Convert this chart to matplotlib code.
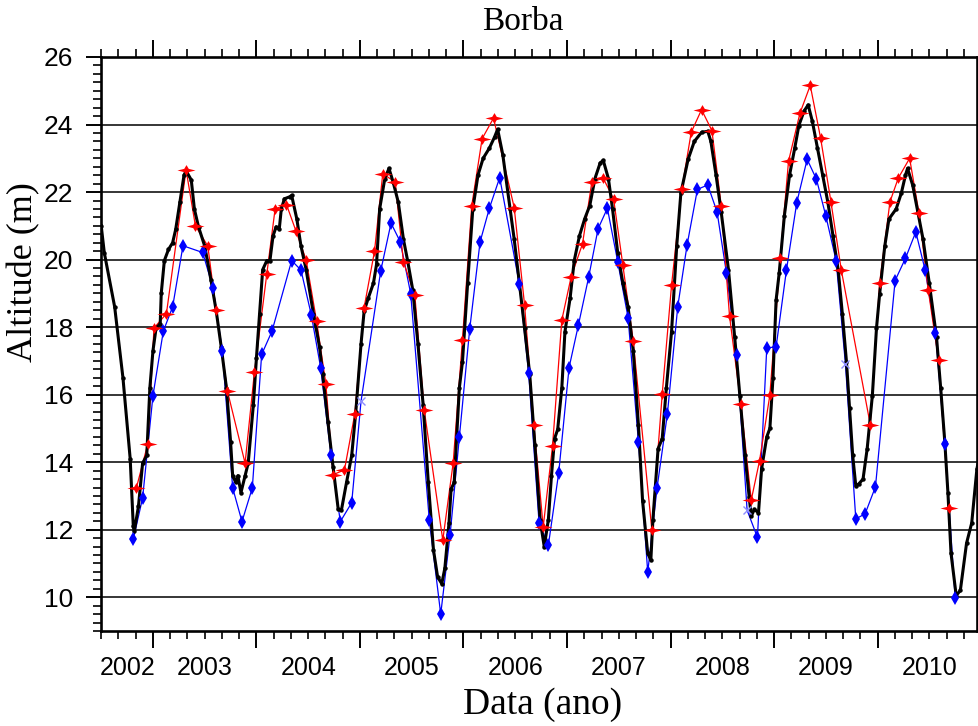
import matplotlib
matplotlib.use("Agg")
import matplotlib.pyplot as plt
from matplotlib.path import Path
from matplotlib.ticker import MultipleLocator

# in situ gauge (black)
black_t = [2002.50, 2002.53, 2002.63, 2002.71, 2002.78, 2002.81, 2002.82, 2002.86, 2002.90, 2002.94,
           2002.97, 2003.00, 2003.03, 2003.07, 2003.08, 2003.11, 2003.15, 2003.19, 2003.22, 2003.26,
           2003.30, 2003.32, 2003.37, 2003.40, 2003.44, 2003.50, 2003.56, 2003.61, 2003.66, 2003.71,
           2003.75, 2003.77, 2003.80, 2003.82, 2003.85, 2003.89, 2003.92, 2003.97, 2004.00, 2004.03,
           2004.06, 2004.10, 2004.13, 2004.16, 2004.19, 2004.22, 2004.24, 2004.27, 2004.32, 2004.34,
           2004.39, 2004.43, 2004.48, 2004.55, 2004.61, 2004.64, 2004.69, 2004.74, 2004.79, 2004.82,
           2004.87, 2004.92, 2004.96, 2005.01, 2005.04, 2005.08, 2005.13, 2005.16, 2005.19, 2005.24,
           2005.28, 2005.32, 2005.37, 2005.42, 2005.46, 2005.51, 2005.56, 2005.61, 2005.66, 2005.71,
           2005.75, 2005.79, 2005.82, 2005.86, 2005.88, 2005.91, 2005.96, 2005.99, 2006.04, 2006.09,
           2006.14, 2006.19, 2006.25, 2006.30, 2006.33, 2006.38, 2006.45, 2006.49, 2006.54, 2006.59,
           2006.64, 2006.69, 2006.74, 2006.78, 2006.82, 2006.85, 2006.88, 2006.91, 2006.95, 2006.98,
           2007.03, 2007.07, 2007.12, 2007.17, 2007.22, 2007.27, 2007.32, 2007.35, 2007.40, 2007.44,
           2007.49, 2007.54, 2007.59, 2007.64, 2007.69, 2007.73, 2007.78, 2007.81, 2007.83, 2007.88,
           2007.92, 2007.96, 2008.01, 2008.06, 2008.10, 2008.17, 2008.23, 2008.30, 2008.36, 2008.39,
           2008.44, 2008.49, 2008.56, 2008.62, 2008.67, 2008.72, 2008.76, 2008.78, 2008.81, 2008.85,
           2008.88, 2008.93, 2008.96, 2008.99, 2009.02, 2009.05, 2009.10, 2009.15, 2009.20, 2009.24,
           2009.29, 2009.33, 2009.37, 2009.42, 2009.47, 2009.52, 2009.57, 2009.62, 2009.66, 2009.70,
           2009.73, 2009.76, 2009.79, 2009.82, 2009.86, 2009.90, 2009.95, 2009.99, 2010.02, 2010.07,
           2010.11, 2010.18, 2010.23, 2010.27, 2010.29, 2010.34, 2010.39, 2010.44, 2010.50, 2010.57,
           2010.61, 2010.65, 2010.68, 2010.71, 2010.76, 2010.80, 2010.86, 2010.91, 2010.96, 2010.98]
black_v = [21.0, 20.2, 18.6, 16.5, 14.1, 12.1, 11.95, 12.7, 13.97, 14.2,
           16.2, 17.3, 17.97, 18.1, 19.0, 19.97, 20.3, 20.5, 20.9, 21.7,
           22.5, 22.63, 22.36, 21.5, 20.97, 20.4, 19.4, 18.5, 17.4, 16.2,
           14.6, 13.6, 13.4, 13.6, 13.1, 13.6, 13.97, 15.7, 17.1, 18.4,
           19.7, 19.97, 19.97, 20.7, 20.97, 20.9, 21.5, 21.8, 21.86, 21.9,
           21.2, 20.4, 19.7, 18.4, 17.4, 16.6, 15.2, 13.86, 12.6, 12.57,
           13.4, 14.2, 15.5, 17.5, 18.47, 18.86, 19.3, 19.86, 21.5, 22.4,
           22.7, 22.3, 21.7, 20.6, 19.97, 19.1, 17.5, 15.7, 13.4, 11.4,
           10.6, 10.4, 10.86, 12.2, 13.2, 13.4, 16.2, 16.97, 19.3, 21.5,
           22.5, 23.0, 23.3, 23.63, 23.86, 23.1, 21.5, 20.6, 19.3, 17.97,
           16.6, 14.5, 12.3, 11.5, 12.3, 13.6, 14.7, 14.97, 16.2, 17.86,
           18.86, 19.97, 20.7, 21.2, 21.6, 22.4, 22.86, 22.94, 22.4, 21.5,
           20.2, 19.3, 18.6, 17.3, 15.1, 12.86, 11.3, 11.1, 12.3, 14.4,
           14.7, 16.2, 17.86, 20.4, 21.97, 22.97, 23.5, 23.77, 23.8, 23.5,
           22.5, 21.4, 19.7, 17.7, 15.97, 14.2, 12.97, 12.4, 12.6, 12.5,
           13.8, 14.75, 15.0, 16.5, 18.8, 19.6, 21.3, 22.5, 23.3, 23.97,
           24.4, 24.58, 24.1, 23.3, 22.5, 21.7, 20.7, 19.7, 18.4, 16.97,
           15.6, 14.2, 13.3, 13.36, 13.5, 14.4, 15.97, 17.97, 18.97, 20.4,
           21.2, 21.5, 21.97, 22.5, 22.7, 22.2, 21.4, 20.6, 19.3, 17.7,
           16.2, 14.6, 13.1, 11.3, 10.05, 10.2, 11.6, 12.2, 13.8, 14.1]

# altimetry series (red)
red_t = [2002.84, 2002.95, 2003.01, 2003.13, 2003.32, 2003.41, 2003.53, 2003.61, 2003.72, 2003.89,
         2003.98, 2004.10, 2004.18, 2004.29, 2004.38, 2004.48, 2004.58, 2004.67, 2004.74, 2004.85,
         2004.95, 2005.04, 2005.14, 2005.22, 2005.34, 2005.42, 2005.53, 2005.62, 2005.80, 2005.90,
         2005.99, 2006.08, 2006.18, 2006.29, 2006.49, 2006.59, 2006.68, 2006.77, 2006.86, 2006.95,
         2007.04, 2007.15, 2007.24, 2007.35, 2007.45, 2007.54, 2007.64, 2007.82, 2007.92, 2008.01,
         2008.11, 2008.20, 2008.30, 2008.40, 2008.49, 2008.57, 2008.68, 2008.78, 2008.86, 2008.96,
         2009.06, 2009.14, 2009.25, 2009.35, 2009.45, 2009.55, 2009.65, 2009.93, 2010.02, 2010.12,
         2010.20, 2010.31, 2010.40, 2010.49, 2010.59, 2010.69]
red_v = [13.24, 14.54, 17.97, 18.4, 22.66, 21.0, 20.4, 18.5, 16.1, 13.97,
         16.66, 19.58, 21.5, 21.63, 20.86, 19.99, 18.19, 16.33, 13.63, 13.77,
         15.43, 18.58, 20.24, 22.54, 22.3, 19.93, 18.94, 15.56, 11.69, 13.97,
         17.63, 21.6, 23.58, 24.19, 21.54, 18.66, 15.11, 12.08, 14.47, 18.21,
         19.49, 20.47, 22.3, 22.41, 21.8, 19.83, 17.58, 11.99, 16.02, 19.24,
         22.1, 23.77, 24.44, 23.82, 21.6, 18.33, 15.72, 12.88, 14.04, 15.99,
         20.04, 22.91, 24.33, 25.16, 23.6, 21.71, 19.69, 15.11, 19.3, 21.71,
         22.41, 23.0, 21.39, 19.1, 17.02, 12.63]

# altimetry series (blue); flag 0 = faint point drawn as x
blue_t = [2002.81, 2002.90, 2003.00, 2003.10, 2003.19, 2003.29, 2003.48, 2003.58, 2003.67, 2003.77,
          2003.86, 2003.96, 2004.05, 2004.15, 2004.34, 2004.43, 2004.53, 2004.62, 2004.72, 2004.81,
          2004.92, 2005.01, 2005.20, 2005.30, 2005.39, 2005.49, 2005.67, 2005.78, 2005.87, 2005.96,
          2006.06, 2006.16, 2006.25, 2006.35, 2006.54, 2006.63, 2006.73, 2006.82, 2006.92, 2007.02,
          2007.11, 2007.21, 2007.30, 2007.39, 2007.49, 2007.59, 2007.69, 2007.78, 2007.87, 2007.97,
          2008.07, 2008.16, 2008.26, 2008.36, 2008.45, 2008.54, 2008.64, 2008.74, 2008.84, 2008.93,
          2009.02, 2009.12, 2009.22, 2009.32, 2009.41, 2009.50, 2009.60, 2009.69, 2009.79, 2009.88,
          2009.98, 2010.17, 2010.27, 2010.37, 2010.46, 2010.56, 2010.65, 2010.75]
blue_v = [11.72, 12.94, 15.97, 17.88, 18.6, 20.41, 20.21, 19.17, 17.3, 13.24,
          12.24, 13.24, 17.19, 17.88, 19.97, 19.69, 18.36, 16.8, 14.21, 12.24,
          12.8, 15.8, 19.66, 21.08, 20.52, 18.99, 12.28, 9.5, 11.83, 14.74,
          17.94, 20.52, 21.52, 22.43, 19.27, 16.63, 12.21, 11.54, 13.69, 16.8,
          18.06, 19.49, 20.91, 21.52, 19.94, 18.28, 14.61, 10.74, 13.24, 15.43,
          18.61, 20.43, 22.08, 22.21, 21.41, 19.61, 17.17, 12.58, 11.77, 17.39,
          17.41, 19.69, 21.69, 22.97, 22.38, 21.3, 19.97, 16.91, 12.32, 12.47,
          13.27, 19.38, 20.04, 20.82, 19.69, 17.83, 14.54, 9.99]
blue_flag = [1, 1, 1, 1, 1, 1, 1, 1, 1, 1,
             1, 1, 1, 1, 1, 1, 1, 1, 1, 1,
             1, 0, 1, 1, 1, 1, 1, 1, 1, 1,
             1, 1, 1, 1, 1, 1, 1, 1, 1, 1,
             1, 1, 1, 1, 1, 1, 1, 1, 1, 1,
             1, 1, 1, 1, 1, 1, 1, 0, 1, 1,
             1, 1, 1, 1, 1, 1, 1, 0, 1, 1,
             1, 1, 1, 1, 1, 1, 1, 1]

years = ['2002', '2003', '2004', '2005', '2006', '2007', '2008', '2009', '2010']
year_pos = [2002.76, 2003.5, 2004.5, 2005.5, 2006.5, 2007.5, 2008.5, 2009.5, 2010.5]

sans = 'Liberation Sans'
serif = 'Liberation Serif'

# wide 4-point star used for the red markers
star = Path([(-1.0, 0.0), (-0.25, 0.18), (0.0, 0.6), (0.25, 0.18), (1.0, 0.0),
             (0.25, -0.18), (0.0, -0.6), (-0.25, -0.18), (-1.0, 0.0)])

fig = plt.figure(figsize=(9.79, 7.26), dpi=100)
ax = fig.add_axes([101 / 979, 1 - 631 / 726, 876 / 979, 574 / 726])

ax.plot(blue_t, blue_v, color='blue', lw=0.9, zorder=3)
ax.plot(red_t, red_v, color='red', lw=0.9, zorder=3)
ax.plot(black_t, black_v, color='black', lw=2.2, zorder=4)
ax.plot(black_t, black_v, 'o', color='black', ms=2.2, zorder=4)

bt = [t for t, f in zip(blue_t, blue_flag) if f]
bv = [v for v, f in zip(blue_v, blue_flag) if f]
ft = [t for t, f in zip(blue_t, blue_flag) if not f]
fv = [v for v, f in zip(blue_v, blue_flag) if not f]
ax.plot(bt, bv, 'd', color='blue', ms=7, mew=0, zorder=5)
ax.plot(ft, fv, 'x', color='#8c8cff', ms=6, mew=1, zorder=5)
ax.plot(red_t, red_v, linestyle='none', marker=star, color='red', ms=13, mew=0, zorder=5)

ax.set_xlim(2002.498, 2010.961)
ax.set_ylim(9.0, 26.0)

ax.set_yticks(range(10, 27, 2))
ax.yaxis.set_minor_locator(MultipleLocator(0.25))
ax.set_xticks(range(2003, 2011))
ax.xaxis.set_minor_locator(MultipleLocator(1 / 6))
ax.set_xticklabels([])
ax.yaxis.grid(True, color='black', lw=1.1)
ax.set_axisbelow(False)

ax.tick_params(axis='x', which='major', direction='out', top=True, length=12, width=1.4)
ax.tick_params(axis='x', which='minor', direction='out', top=True, length=6, width=1.2)
ax.tick_params(axis='y', which='major', direction='out', right=False, length=11, width=1.4,
               pad=9, labelsize=19)
ax.tick_params(axis='y', which='minor', direction='out', right=False, length=6, width=1.2)
for lab in ax.get_yticklabels():
    lab.set_family(sans)

for s in ax.spines.values():
    s.set_linewidth(1.9)

for pos, lab in zip(year_pos, years):
    ax.text(pos, -0.043, lab, transform=ax.get_xaxis_transform(), ha='center', va='top',
            fontsize=18, family=sans)

fig.text(523 / 979, 1 - 22 / 726, 'Borba', ha='center', va='center', fontsize=24, family=serif)
fig.text(24 / 979, 1 - 272 / 726, 'Altitude (m)', ha='center', va='center', rotation=90,
         fontsize=26, family=serif)
fig.text(543 / 979, 1 - 705 / 726, 'Data (ano)', ha='center', va='center', fontsize=27,
         family=serif)

fig.savefig('out.png', dpi=100)
